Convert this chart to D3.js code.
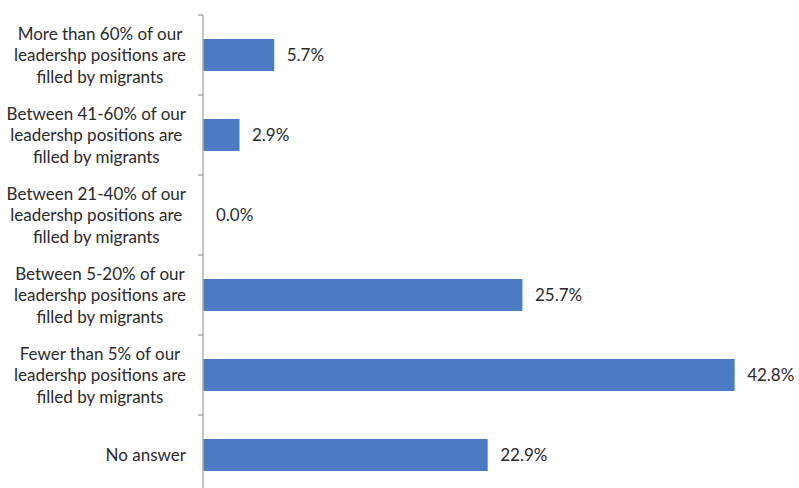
<!DOCTYPE html>
<html><head><meta charset="utf-8">
<script src="https://cdn.jsdelivr.net/npm/d3@7"></script>
<style>body{margin:0;background:#fff}svg{display:block}</style>
</head><body>
<svg id="chart" width="799" height="488"></svg>
<script>
const categories = [
  "More than 60% of our|leadershp positions are|filled by migrants",
  "Between 41-60% of our|leadershp positions are|filled by migrants",
  "Between 21-40% of our|leadershp positions are|filled by migrants",
  "Between 5-20% of our|leadershp positions are|filled by migrants",
  "Fewer than 5% of our|leadershp positions are|filled by migrants",
  "No answer"
];
const values = [5.7, 2.9, 0.0, 25.7, 42.8, 22.9];
const valueLabels = ["5.7%", "2.9%", "0.0%", "25.7%", "42.8%", "22.9%"];

const svg = d3.select("#chart");
const font = "Lato, 'Open Sans', sans-serif";
const x = d3.scaleLinear().domain([0, 50]).range([203, 823.5]);
const y = d3.scaleBand().domain(categories).range([15, 495]).paddingInner(0.6).paddingOuter(0.3);

// axis
const axis = d3.axisLeft(y).tickSize(5).tickFormat("");
const gAx = svg.append("g").attr("transform", "translate(203,0)").call(axis);
gAx.select(".domain").attr("stroke", "#8c8c8c").attr("d", "M0,15V495");
gAx.selectAll(".tick").remove();
const bounds = d3.range(categories.length + 1).map(i => 15 + i * y.step());
gAx.selectAll("line.b").data(bounds).enter().append("line")
  .attr("x1", -5).attr("x2", 0).attr("y1", d => d).attr("y2", d => d)
  .attr("stroke", "#8c8c8c");

// bars
svg.selectAll("rect.bar").data(values).enter().append("rect")
  .attr("x", x(0) + 0.5)
  .attr("y", (d, i) => y(categories[i]))
  .attr("width", d => Math.max(0, x(d) - x(0)))
  .attr("height", y.bandwidth())
  .attr("fill", "#4a7bc3");

// value labels
svg.selectAll("text.val").data(values).enter().append("text")
  .attr("x", d => x(d) + 13)
  .attr("y", (d, i) => y(categories[i]) + y.bandwidth() / 2 + 6)
  .attr("font-family", font).attr("font-size", 17).attr("fill", "#2a2a2a")
  .text((d, i) => valueLabels[i]);

// category labels: block right-aligned at x=185, lines centred within block
categories.forEach((c, i) => {
  const lines = c.split("|");
  const cy = y(c) + y.bandwidth() / 2;
  const lh = 21.5;
  const t = svg.append("text")
    .attr("text-anchor", "middle")
    .attr("font-family", font).attr("font-size", 17).attr("fill", "#2a2a2a");
  const spans = lines.map((l, j) => t.append("tspan")
      .attr("y", cy + (j - (lines.length - 1) / 2) * lh + 6)
      .text(l));
  const maxW = d3.max(spans, s => s.node().getComputedTextLength());
  spans.forEach(s => s.attr("x", 186 - maxW / 2));
});
</script>
</body></html>
